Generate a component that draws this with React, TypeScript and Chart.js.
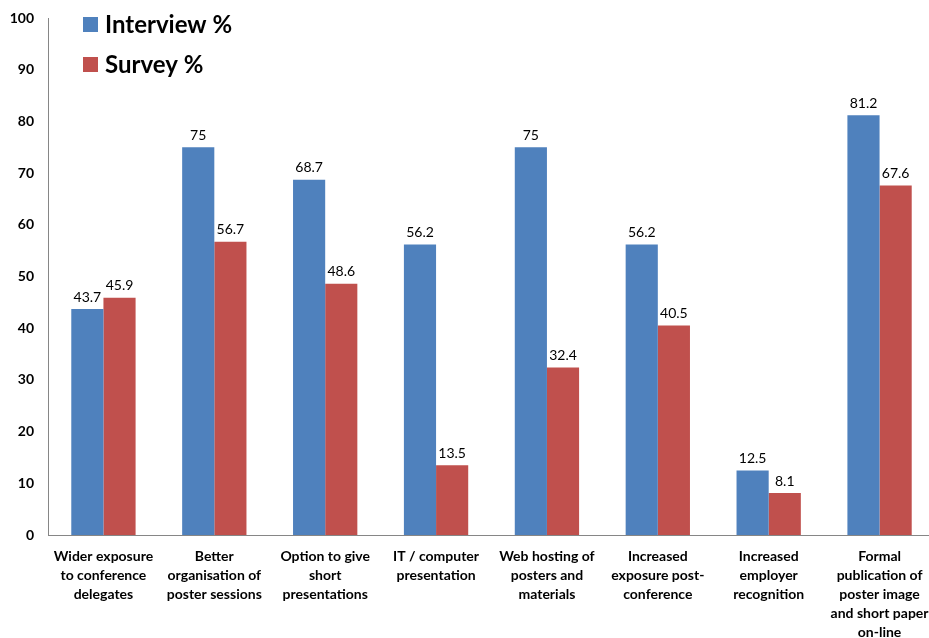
import React, { useEffect, useRef } from "react";
import { Chart, registerables } from "chart.js";

Chart.register(...registerables);

const categories: string[][] = [
  ["Wider exposure", "to conference", "delegates"],
  ["Better", "organisation of", "poster sessions"],
  ["Option to give", "short", "presentations"],
  ["IT / computer", "presentation"],
  ["Web hosting of", "posters and", "materials"],
  ["Increased", "exposure post-", "conference"],
  ["Increased", "employer", "recognition"],
  ["Formal", "publication of", "poster image", "and short paper", "on-line"],
];
const interviewValues = [43.7, 75, 68.7, 56.2, 75, 56.2, 12.5, 81.2];
const surveyValues = [45.9, 56.7, 48.6, 13.5, 32.4, 40.5, 8.1, 67.6];
const seriesNames = ["Interview %", "Survey %"];
const seriesColors = ["#4F81BD", "#C0504D"];

const FONT = "Lato, 'Open Sans', sans-serif";

const valueLabels = {
  id: "valueLabels",
  afterDatasetsDraw(chart: any) {
    const ctx = chart.ctx;
    ctx.save();
    ctx.font = `14px ${FONT}`;
    ctx.fillStyle = "#000";
    ctx.textAlign = "center";
    ctx.textBaseline = "bottom";
    chart.data.datasets.forEach((ds: any, di: number) => {
      const meta = chart.getDatasetMeta(di);
      meta.data.forEach((bar: any, i: number) => {
        ctx.fillText(String(ds.data[i]), bar.x, bar.y - 5);
      });
    });
    ctx.restore();
  },
};

const insideLegend = {
  id: "insideLegend",
  afterDraw(chart: any) {
    const ctx = chart.ctx;
    ctx.save();
    const x = 83;
    const ys = [24, 64];
    chart.data.datasets.forEach((ds: any, i: number) => {
      ctx.fillStyle = ds.backgroundColor;
      ctx.fillRect(x, ys[i] - 7, 15, 15);
      ctx.fillStyle = "#000";
      ctx.font = `bold 24px ${FONT}`;
      ctx.textAlign = "left";
      ctx.textBaseline = "middle";
      ctx.fillText(ds.label, x + 22, ys[i] + 1);
    });
    ctx.restore();
  },
};

export default function App() {
  const ref = useRef<HTMLCanvasElement>(null);
  useEffect(() => {
    if (!ref.current) return;
    const chart = new Chart(ref.current, {
      type: "bar",
      data: {
        labels: categories,
        datasets: [
          { label: seriesNames[0], data: interviewValues, backgroundColor: seriesColors[0] },
          { label: seriesNames[1], data: surveyValues, backgroundColor: seriesColors[1] },
        ],
      },
      options: {
        animation: false,
        responsive: false,
        maintainAspectRatio: false,
        layout: { padding: { top: 18, left: 0, right: 0, bottom: 0 } },
        datasets: { bar: { categoryPercentage: 0.58, barPercentage: 1.0 } },
        plugins: { legend: { display: false }, tooltip: { enabled: false } },
        scales: {
          x: {
            grid: { display: false, drawTicks: false },
            border: { display: true, color: "#868686", width: 1 },
            ticks: {
              color: "#000",
              font: { family: FONT, size: 14, weight: "bold", lineHeight: 1.35 },
              padding: 12,
              maxRotation: 0,
              autoSkip: false,
            },
            afterFit(scale: any) {
              scale.height = 103;
              scale.paddingLeft = 0;
              scale.paddingRight = 0;
            },
          },
          y: {
            min: 0,
            max: 100,
            grid: { display: false, drawTicks: false },
            border: { display: true, color: "#868686", width: 1 },
            ticks: {
              stepSize: 10,
              color: "#000",
              font: { family: FONT, size: 14, weight: "bold" },
              padding: 14,
            },
            afterFit(scale: any) {
              scale.width = 48;
              scale.paddingTop = 0;
              scale.paddingBottom = 0;
            },
          },
        },
      },
      plugins: [valueLabels, insideLegend],
    } as any);
    return () => chart.destroy();
  }, []);
  return (
    <div style={{ position: "fixed", left: 0, top: 0, width: 929, height: 638, background: "#fff", overflow: "hidden" }}>
      <canvas ref={ref} width={935} height={638} />
    </div>
  );
}
